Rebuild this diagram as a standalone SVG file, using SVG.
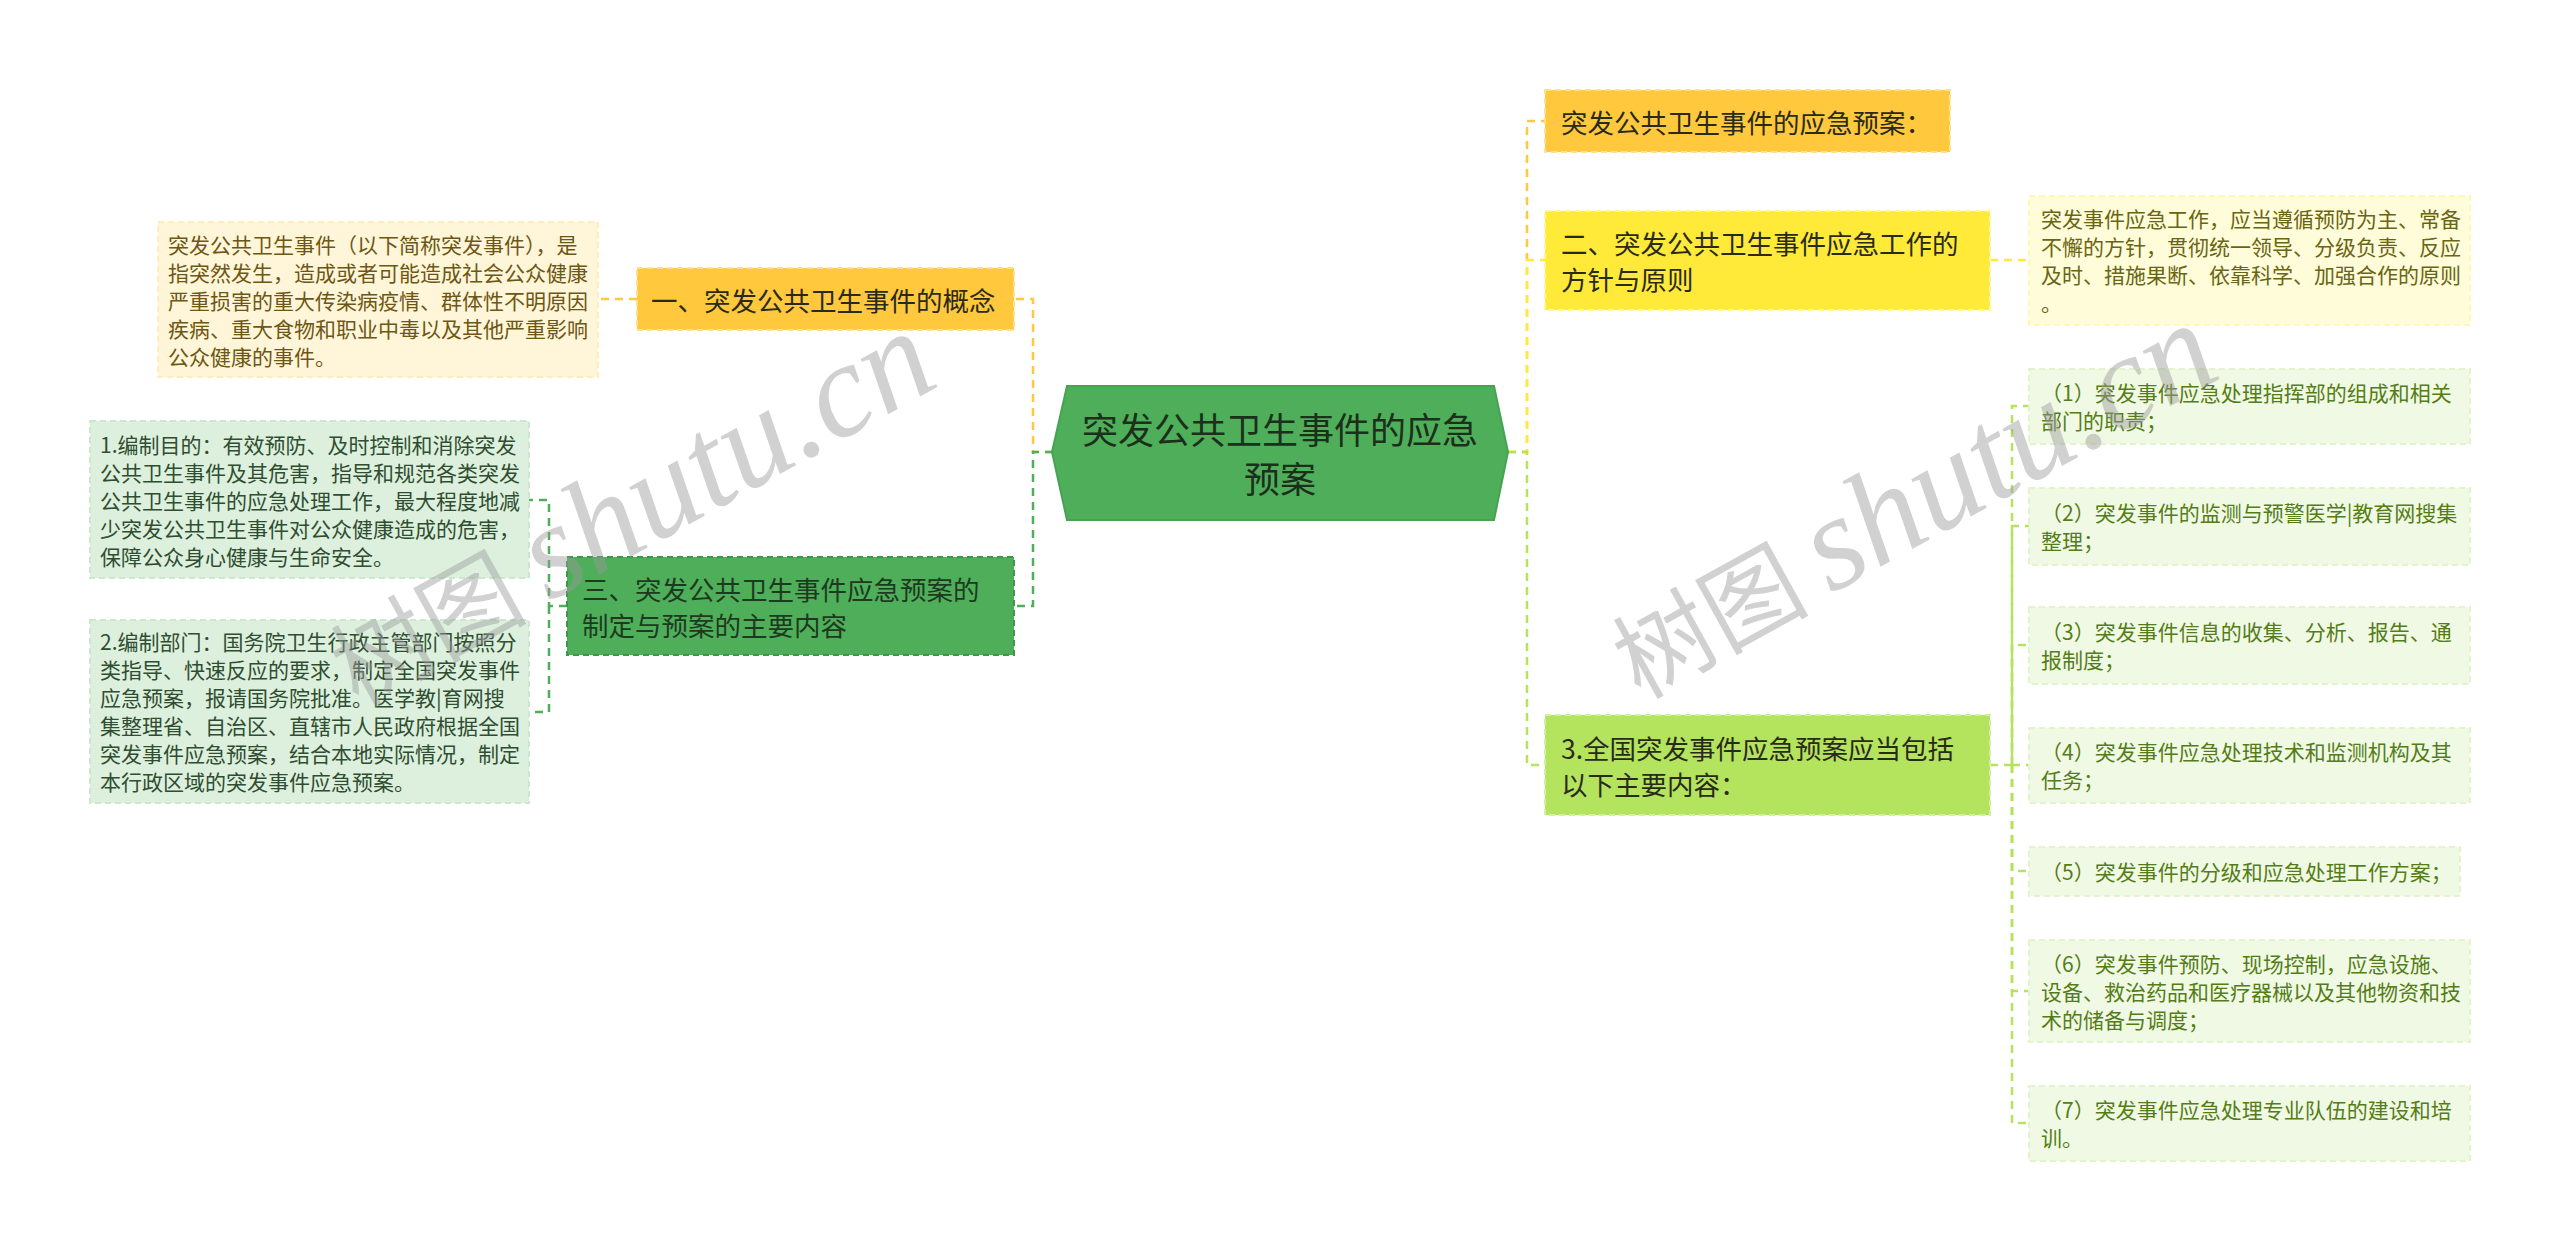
<svg xmlns="http://www.w3.org/2000/svg" width="2560" height="1253" viewBox="0 0 2560 1253">
<style>
text{font-family:"Noto Sans CJK SC","Liberation Sans",sans-serif;dominant-baseline:central}
.conn{fill:none;stroke-width:2.5;stroke-dasharray:8 6}
.gold{stroke:#FFC83D}
.yel{stroke:#FFE93B}
.lime{stroke:#B4E35E}
.grn{stroke:#4FAE5A}
.n-gold{fill:#FFC83D;stroke:#FFE08C;stroke-width:2;stroke-dasharray:6 4}
.n-yel{fill:#FFEA3A;stroke:#FFF59A;stroke-width:2;stroke-dasharray:6 4}
.n-lime{fill:#B4E35E;stroke:#D3EFA0;stroke-width:2;stroke-dasharray:6 4}
.n-grn{fill:#4FAE5A;stroke:#3E9648;stroke-width:2;stroke-dasharray:6 4}
.l-gold{fill:#FFF6D9;stroke:#FFEDBC;stroke-width:2;stroke-dasharray:6 4}
.l-yel{fill:#FFFCD9;stroke:#FFF7B5;stroke-width:2;stroke-dasharray:6 4}
.l-lime{fill:#F0F9E4;stroke:#E3F3CC;stroke-width:2;stroke-dasharray:6 4}
.l-grn{fill:#DDF0DE;stroke:#CBE7CD;stroke-width:2;stroke-dasharray:6 4}
.t-main{font-size:26.5px;fill:#2a2a1a}
.t-grn{font-size:26.5px;fill:#1d3a1f}
.t-leaf{font-size:21px}
.c-gold{fill:#6e5614}
.c-yel{fill:#6a6513}
.c-lime{fill:#557d17}
.c-grn{fill:#2f4d30}
.wm{font-size:98px;fill:#9a9a9a;opacity:0.45;dominant-baseline:auto}
.wm tspan{font-family:"Liberation Serif",serif;font-style:italic;font-size:134px}
</style>

<g id="connectors">
<path class="conn gold" d="M1053,452 H1033 V299 H1014"/>
<path class="conn grn" d="M1053,452 H1033 V606 H1014"/>
<path class="conn gold" d="M637,299 H598"/>
<path class="conn grn" d="M567,606 H549 V500 H529"/>
<path class="conn grn" d="M549,606 V712 H529"/>
<path class="conn gold" d="M1508,452 H1527 V121 H1545"/>
<path class="conn yel" d="M1508,452 H1527 V260 H1545"/>
<path class="conn lime" d="M1508,452 H1527 V765 H1545"/>
<path class="conn yel" d="M1990,260 H2029"/>
<path class="conn lime" d="M1990,765 H2012 V406 H2029"/>
<path class="conn lime" d="M2012,765 V526 H2029"/>
<path class="conn lime" d="M2012,765 V645 H2029"/>
<path class="conn lime" d="M2012,765 H2029"/>
<path class="conn lime" d="M2012,765 V871 H2029"/>
<path class="conn lime" d="M2012,765 V991 H2029"/>
<path class="conn lime" d="M2012,765 V1123 H2029"/>
</g>

<g id="root">
<polygon points="1052,452 1067,386 1494,386 1508,452 1494,520 1067,520" fill="#4FAE5A" stroke="#46A351" stroke-width="2"/>
<text x="1280" y="428" text-anchor="middle" font-size="36" fill="#1b2f1b">突发公共卫生事件的应急</text>
<text x="1280" y="477" text-anchor="middle" font-size="36" fill="#1b2f1b">预案</text>
</g>

<g id="n-concept">
<rect class="n-gold" x="637" y="268" width="377" height="62"/>
<text class="t-main" x="651" y="299">一、突发公共卫生事件的概念</text>
</g>
<g id="leaf-concept">
<rect class="l-gold" x="158" y="222" width="440" height="155"/>
<text class="t-leaf c-gold" x="168" y="244">突发公共卫生事件（以下简称突发事件），是</text>
<text class="t-leaf c-gold" x="168" y="272">指突然发生，造成或者可能造成社会公众健康</text>
<text class="t-leaf c-gold" x="168" y="300">严重损害的重大传染病疫情、群体性不明原因</text>
<text class="t-leaf c-gold" x="168" y="328">疾病、重大食物和职业中毒以及其他严重影响</text>
<text class="t-leaf c-gold" x="168" y="356">公众健康的事件。</text>
</g>

<g id="n-plan">
<rect class="n-grn" x="567" y="557" width="447" height="98"/>
<text class="t-grn" x="582" y="588">三、突发公共卫生事件应急预案的</text>
<text class="t-grn" x="582" y="624">制定与预案的主要内容</text>
</g>
<g id="leaf-purpose">
<rect class="l-grn" x="90" y="421" width="439" height="157"/>
<text class="t-leaf c-grn" x="100" y="444">1.编制目的：有效预防、及时控制和消除突发</text>
<text class="t-leaf c-grn" x="100" y="472">公共卫生事件及其危害，指导和规范各类突发</text>
<text class="t-leaf c-grn" x="100" y="500">公共卫生事件的应急处理工作，最大程度地减</text>
<text class="t-leaf c-grn" x="100" y="528">少突发公共卫生事件对公众健康造成的危害，</text>
<text class="t-leaf c-grn" x="100" y="556">保障公众身心健康与生命安全。</text>
</g>
<g id="leaf-dept">
<rect class="l-grn" x="90" y="620" width="439" height="183"/>
<text class="t-leaf c-grn" x="100" y="641">2.编制部门：国务院卫生行政主管部门按照分</text>
<text class="t-leaf c-grn" x="100" y="669">类指导、快速反应的要求，制定全国突发事件</text>
<text class="t-leaf c-grn" x="100" y="697">应急预案，报请国务院批准。医学教|育网搜</text>
<text class="t-leaf c-grn" x="100" y="725">集整理省、自治区、直辖市人民政府根据全国</text>
<text class="t-leaf c-grn" x="100" y="753">突发事件应急预案，结合本地实际情况，制定</text>
<text class="t-leaf c-grn" x="100" y="781">本行政区域的突发事件应急预案。</text>
</g>

<g id="n-title">
<rect class="n-gold" x="1545" y="90" width="405" height="62"/>
<text class="t-main" x="1561" y="121">突发公共卫生事件的应急预案：</text>
</g>

<g id="n-principle">
<rect class="n-yel" x="1545" y="211" width="445" height="99"/>
<text class="t-main" x="1561" y="242">二、突发公共卫生事件应急工作的</text>
<text class="t-main" x="1561" y="278">方针与原则</text>
</g>
<g id="leaf-principle">
<rect class="l-yel" x="2029" y="196" width="441" height="129"/>
<text class="t-leaf c-yel" x="2041" y="218">突发事件应急工作，应当遵循预防为主、常备</text>
<text class="t-leaf c-yel" x="2041" y="246">不懈的方针，贯彻统一领导、分级负责、反应</text>
<text class="t-leaf c-yel" x="2041" y="274">及时、措施果断、依靠科学、加强合作的原则</text>
<text class="t-leaf c-yel" x="2041" y="302">。</text>
</g>

<g id="n-content">
<rect class="n-lime" x="1545" y="715" width="445" height="100"/>
<text class="t-main" x="1561" y="747">3.全国突发事件应急预案应当包括</text>
<text class="t-main" x="1561" y="783">以下主要内容：</text>
</g>

<g id="leaf-c1">
<rect class="l-lime" x="2029" y="369" width="441" height="75"/>
<text class="t-leaf c-lime" x="2041" y="392">（1）突发事件应急处理指挥部的组成和相关</text>
<text class="t-leaf c-lime" x="2041" y="420">部门的职责；</text>
</g>
<g id="leaf-c2">
<rect class="l-lime" x="2029" y="488" width="441" height="77"/>
<text class="t-leaf c-lime" x="2041" y="512">（2）突发事件的监测与预警医学|教育网搜集</text>
<text class="t-leaf c-lime" x="2041" y="540">整理；</text>
</g>
<g id="leaf-c3">
<rect class="l-lime" x="2029" y="607" width="441" height="77"/>
<text class="t-leaf c-lime" x="2041" y="631">（3）突发事件信息的收集、分析、报告、通</text>
<text class="t-leaf c-lime" x="2041" y="659">报制度；</text>
</g>
<g id="leaf-c4">
<rect class="l-lime" x="2029" y="728" width="441" height="75"/>
<text class="t-leaf c-lime" x="2041" y="751">（4）突发事件应急处理技术和监测机构及其</text>
<text class="t-leaf c-lime" x="2041" y="779">任务；</text>
</g>
<g id="leaf-c5">
<rect class="l-lime" x="2029" y="847" width="431" height="49"/>
<text class="t-leaf c-lime" x="2041" y="871">（5）突发事件的分级和应急处理工作方案；</text>
</g>
<g id="leaf-c6">
<rect class="l-lime" x="2029" y="940" width="441" height="102"/>
<text class="t-leaf c-lime" x="2041" y="963">（6）突发事件预防、现场控制，应急设施、</text>
<text class="t-leaf c-lime" x="2041" y="991">设备、救治药品和医疗器械以及其他物资和技</text>
<text class="t-leaf c-lime" x="2041" y="1019">术的储备与调度；</text>
</g>
<g id="leaf-c7">
<rect class="l-lime" x="2029" y="1086" width="441" height="75"/>
<text class="t-leaf c-lime" x="2041" y="1109">（7）突发事件应急处理专业队伍的建设和培</text>
<text class="t-leaf c-lime" x="2041" y="1137">训。</text>
</g>

<g id="watermarks">
<text class="wm" transform="translate(358,708) rotate(-29)">树图 <tspan>shutu.cn</tspan></text>
<text class="wm" transform="translate(1640,700) rotate(-29)">树图 <tspan>shutu.cn</tspan></text>
</g>
</svg>
